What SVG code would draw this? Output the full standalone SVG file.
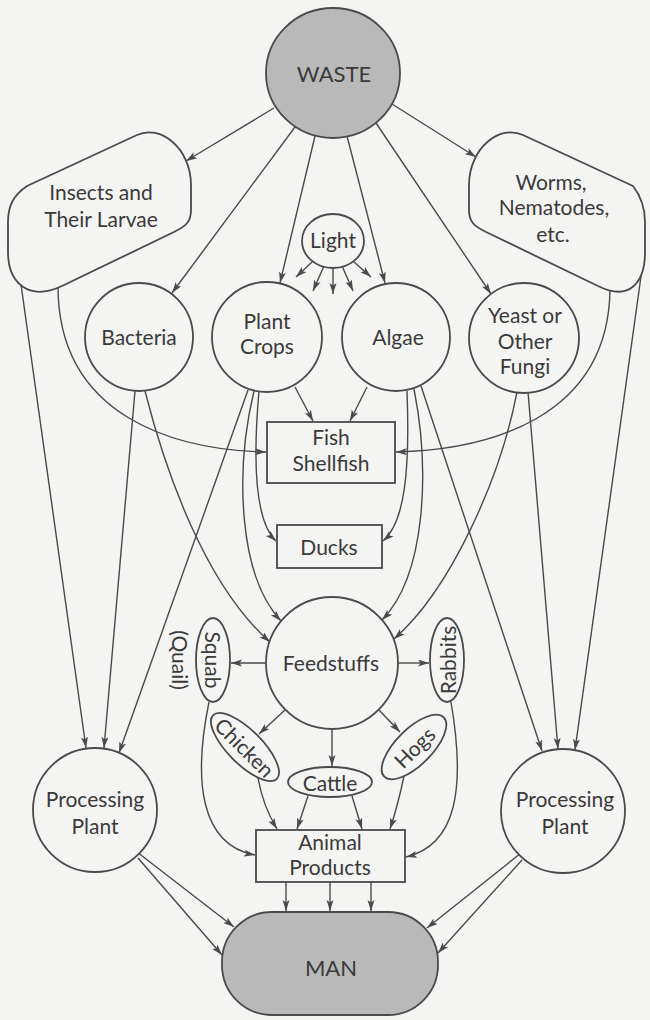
<svg xmlns="http://www.w3.org/2000/svg" width="650" height="1020" viewBox="0 0 650 1020">
<style>
.bg{fill:#f4f4f2}
.node{fill:#f4f4f2;stroke:#4a4a4a;stroke-width:1.8}
.gray{fill:#b9b9b9}
.lbl{font-family:Lato,"Liberation Sans",sans-serif;font-size:21px;fill:#3a3a3a;text-anchor:middle}
.big{font-size:22px}
.c{dominant-baseline:central}
.edge{fill:none;stroke:#4a4a4a;stroke-width:1.4;marker-end:url(#ah)}
</style>
<defs>
<marker id="ah" markerUnits="userSpaceOnUse" markerWidth="12" markerHeight="8" refX="11" refY="3.5" orient="auto">
<path d="M0,0 L11,3.5 L0,7 L2.5,3.5 Z" fill="#4a4a4a"/>
</marker>
</defs>
<rect class="bg" x="0" y="0" width="650" height="1020"/>
<g id="connectors">
<path class="edge" d="M274,108 L186,161"/>
<path class="edge" d="M295,127 L172,293"/>
<path class="edge" d="M315,136 L280,283"/>
<path class="edge" d="M347,136 L385,283"/>
<path class="edge" d="M376,123 L491,294"/>
<path class="edge" d="M392,104 L476,157"/>
<path class="edge" d="M312.6,261.4 L296,277"/>
<path class="edge" d="M323.6,266.7 L313,291"/>
<path class="edge" d="M333,268 L333,294"/>
<path class="edge" d="M342.4,266.7 L353,291"/>
<path class="edge" d="M353.4,261.4 L371,277"/>
<path class="edge" d="M18,263 L86,748"/>
<path class="edge" d="M58,286 C58,420 180,450 266,452"/>
<path class="edge" d="M135,391 L104,748"/>
<path class="edge" d="M145,391 C165,470 205,585 270,642"/>
<path class="edge" d="M248,390 L119,753"/>
<path class="edge" d="M254,391 C235,470 238,575 281,621"/>
<path class="edge" d="M259,391 C252,470 256,522 276,541"/>
<path class="edge" d="M295,387 L313,421"/>
<path class="edge" d="M367,387 L350,421"/>
<path class="edge" d="M407,391 C410,470 405,522 383,541"/>
<path class="edge" d="M414,389 C430,470 426,575 382,620"/>
<path class="edge" d="M421,386 L542,751"/>
<path class="edge" d="M517,392 C500,480 450,590 394,639"/>
<path class="edge" d="M528,392 L558,749"/>
<path class="edge" d="M643,262 L575,750"/>
<path class="edge" d="M610,290 C608,420 485,450 396,452"/>
<path class="edge" d="M266,663 L231,663"/>
<path class="edge" d="M398,663 L429,663"/>
<path class="edge" d="M285,710 L259,734"/>
<path class="edge" d="M332,729 L332,766"/>
<path class="edge" d="M379,710 L400,732"/>
<path class="edge" d="M209,702 C193,780 200,845 255,855"/>
<path class="edge" d="M258,778 Q263,806 277,829"/>
<path class="edge" d="M308,796 L297,829"/>
<path class="edge" d="M352,796 L362,829"/>
<path class="edge" d="M404,776 Q398,805 390,829"/>
<path class="edge" d="M451,702 C466,790 456,845 406,857"/>
<path class="edge" d="M286,882 L286,911"/>
<path class="edge" d="M330,882 L330,911"/>
<path class="edge" d="M371,882 L371,911"/>
<path class="edge" d="M137,852 L234,927"/>
<path class="edge" d="M138,858 L222,955"/>
<path class="edge" d="M521,853 L427,928"/>
<path class="edge" d="M522,860 L438,953"/>
</g>
<g id="waste"><ellipse class="node gray" cx="333" cy="73" rx="67" ry="65"/><text class="lbl big" x="334" y="82">WASTE</text></g>
<g id="insects"><path class="node" d="M27,186 L137,135 C160,124 191,148 191,185 L191,210 C191,222 186,226 174,232 L62,286 C28,302 8,282 8,252 L8,222 C8,205 14,195 27,186 Z"/><text class="lbl" x="101" y="200">Insects and</text><text class="lbl" x="101" y="227">Their Larvae</text></g>
<g id="worms"><path class="node" d="M633,186 L523,135 C500,124 469,148 469,185 L469,210 C469,222 474,226 486,232 L598,286 C630,302 645,282 645,252 L645,222 C645,205 640,195 633,186 Z"/><text class="lbl" x="551" y="190">Worms,</text><text class="lbl" x="554" y="215">Nematodes,</text><text class="lbl" x="553" y="242">etc.</text></g>
<g id="light"><ellipse class="node" cx="333" cy="241" rx="31" ry="27"/><text class="lbl" x="333" y="248">Light</text></g>
<g id="bacteria"><circle class="node" cx="139" cy="337" r="54"/><text class="lbl" x="139" y="345">Bacteria</text></g>
<g id="plant-crops"><circle class="node" cx="267" cy="337" r="55"/><text class="lbl" x="267" y="329">Plant</text><text class="lbl" x="267" y="354">Crops</text></g>
<g id="algae"><circle class="node" cx="396" cy="337" r="54"/><text class="lbl" x="398" y="345">Algae</text></g>
<g id="yeast"><circle class="node" cx="524" cy="338" r="55"/><text class="lbl" x="525" y="323">Yeast or</text><text class="lbl" x="525" y="349">Other</text><text class="lbl" x="525" y="374">Fungi</text></g>
<g id="fish"><rect class="node" x="267" y="422" width="128" height="61"/><text class="lbl" x="331" y="445">Fish</text><text class="lbl" x="331" y="471">Shellfish</text></g>
<g id="ducks"><rect class="node" x="277" y="525" width="105" height="43"/><text class="lbl" x="329" y="555">Ducks</text></g>
<g id="feedstuffs"><circle class="node" cx="332" cy="663" r="66"/><text class="lbl" x="331" y="671">Feedstuffs</text></g>
<g id="squab"><ellipse class="node" cx="213" cy="660" rx="17" ry="42"/><text class="lbl c" transform="translate(213,660) rotate(90)">Squab</text><text class="lbl c" transform="translate(180,660) rotate(90)">(Quail)</text></g>
<g id="rabbits"><ellipse class="node" cx="447" cy="660" rx="17" ry="42"/><text class="lbl c" transform="translate(447,660) rotate(-90)">Rabbits</text></g>
<g id="chicken"><ellipse class="node" cx="0" cy="0" rx="45" ry="17" transform="translate(245,747) rotate(45)"/><text class="lbl c" transform="translate(245,747) rotate(45)">Chicken</text></g>
<g id="cattle"><ellipse class="node" cx="330" cy="782" rx="42" ry="15"/><text class="lbl c" x="330" y="782">Cattle</text></g>
<g id="hogs"><ellipse class="node" cx="0" cy="0" rx="42" ry="18" transform="translate(414,747) rotate(-45)"/><text class="lbl c" transform="translate(414,747) rotate(-45)">Hogs</text></g>
<g id="animal-products"><rect class="node" x="256" y="830" width="149" height="52"/><text class="lbl" x="330" y="850">Animal</text><text class="lbl" x="330" y="875">Products</text></g>
<g id="processing-left"><circle class="node" cx="95" cy="810" r="62"/><text class="lbl" x="95" y="807">Processing</text><text class="lbl" x="95" y="834">Plant</text></g>
<g id="processing-right"><circle class="node" cx="563" cy="811" r="62"/><text class="lbl" x="565" y="807">Processing</text><text class="lbl" x="565" y="834">Plant</text></g>
<g id="man"><rect class="node gray" x="222" y="912" width="216" height="103" rx="50" ry="50"/><text class="lbl big" x="331" y="976">MAN</text></g>
</svg>
